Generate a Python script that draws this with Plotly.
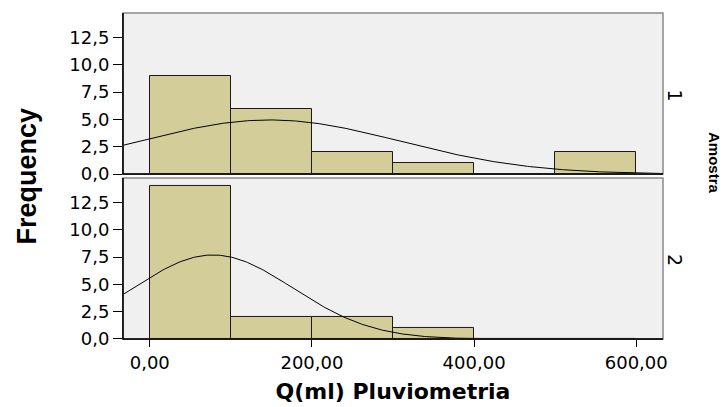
import numpy as np
import plotly.graph_objects as go

# ---- data ----
bin_left = [0, 100, 200, 300, 400, 500]
bin_width = 100
freq_amostra1 = [9, 6, 2, 1, 0, 2]
freq_amostra2 = [14, 2, 2, 1, 0, 0]
# fitted normal parameters
n1, mean1, sd1 = 20, 148.0, 161.0
n2, mean2, sd2 = 19, 78.0, 98.5
y_ticks = [0, 2.5, 5, 7.5, 10, 12.5]
y_tick_labels = ["0,0", "2,5", "5,0", "7,5", "10,0", "12,5"]
x_ticks = [0, 200, 400, 600]
x_tick_labels = ["0,00", "200,00", "400,00", "600,00"]
panel_labels = ["1", "2"]

X_RANGE = [-33, 633]
Y_RANGE = [0, 14.75]
BAR_COLOR = "#D3CE99"
BG = "#F0F0F0"

centers = [b + bin_width / 2 for b in bin_left]
xs = np.linspace(X_RANGE[0], X_RANGE[1], 300)


def normal_curve(n, m, s):
    return n * bin_width / (s * np.sqrt(2 * np.pi)) * np.exp(-((xs - m) ** 2) / (2 * s ** 2))


fig = go.Figure()
for vals, (n, m, s), xa, ya in [
    (freq_amostra1, (n1, mean1, sd1), "x2", "y2"),
    (freq_amostra2, (n2, mean2, sd2), "x", "y"),
]:
    fig.add_trace(go.Bar(
        x=centers, y=vals, width=bin_width, xaxis=xa, yaxis=ya,
        marker=dict(color=BAR_COLOR, line=dict(color="#1a1a1a", width=1)),
        hoverinfo="x+y", showlegend=False,
    ))
    fig.add_trace(go.Scatter(
        x=xs, y=normal_curve(n, m, s), mode="lines", xaxis=xa, yaxis=ya,
        line=dict(color="#000000", width=1), hoverinfo="skip", showlegend=False,
    ))

tick_font = dict(family="DejaVu Sans", size=18, color="#000000")
common_y = dict(
    range=Y_RANGE, tickvals=y_ticks, ticktext=y_tick_labels, ticks="outside",
    ticklen=9, tickcolor="#000000", tickfont=tick_font, showgrid=False,
    zeroline=False, showline=True, linecolor="#000000", linewidth=1,
    fixedrange=True,
)
common_x = dict(
    range=X_RANGE, tickvals=x_ticks, ticktext=x_tick_labels, showgrid=False,
    zeroline=False, showline=True, linecolor="#000000", linewidth=1,
    fixedrange=True,
)

fig.update_layout(
    width=728, height=407,
    margin=dict(l=123, r=65, t=13, b=68, autoexpand=False),
    paper_bgcolor="#FFFFFF",
    plot_bgcolor=BG,
    bargap=0,
    xaxis=dict(**common_x, domain=[0, 1], anchor="y", ticks="outside", ticklen=7,
               tickcolor="#000000", tickfont=tick_font,
               title=dict(text="<b>Q(ml) Pluviometria</b>",
                          font=dict(family="DejaVu Sans", size=22, color="#000000"),
                          standoff=12)),
    xaxis2=dict(**common_x, domain=[0, 1], anchor="y2", showticklabels=False,
                ticks="", matches="x"),
    yaxis=dict(**common_y, domain=[0, 0.494], anchor="x"),
    yaxis2=dict(**common_y, domain=[0.506, 1], anchor="x2"),
)

# panel frames (grey border on the top / right)
for y0, y1 in [(0, 0.494), (0.506, 1)]:
    fig.add_shape(type="rect", xref="paper", yref="paper", x0=0, x1=1, y0=y0, y1=y1,
                  line=dict(color="#8a8a8a", width=1.5), fillcolor="rgba(0,0,0,0)",
                  layer="above")
# redraw dark bottom/left lines on top of the grey frame
for y0, y1 in [(0, 0.494), (0.506, 1)]:
    fig.add_shape(type="line", xref="paper", yref="paper", x0=0, x1=1, y0=y0, y1=y0,
                  line=dict(color="#000000", width=1.5), layer="above")
    fig.add_shape(type="line", xref="paper", yref="paper", x0=0, x1=0, y0=y0, y1=y1,
                  line=dict(color="#000000", width=1.5), layer="above")

# y title
fig.add_annotation(text="<b>Frequency</b>", xref="paper", yref="paper",
                   x=-0.177, y=0.5, xanchor="center", yanchor="middle", textangle=-90,
                   showarrow=False,
                   font=dict(family="Liberation Sans", size=27, color="#000000"))
# facet labels
for lab, yc in zip(panel_labels, [0.747, 0.242]):
    fig.add_annotation(text=lab, xref="paper", yref="paper", x=1, xshift=12,
                       y=yc, xanchor="center", yanchor="middle", textangle=90,
                       showarrow=False, font=dict(family="DejaVu Sans", size=19,
                                                  color="#000000"))
fig.add_annotation(text="<b>Amostra</b>", xref="paper", yref="paper", x=1, xshift=51,
                   y=0.54, xanchor="center", yanchor="middle", textangle=90,
                   showarrow=False, font=dict(family="Liberation Sans", size=15,
                                              color="#000000"))

fig.write_html("out.html", config={"displayModeBar": False},
               post_script="document.body.style.margin='0';")
